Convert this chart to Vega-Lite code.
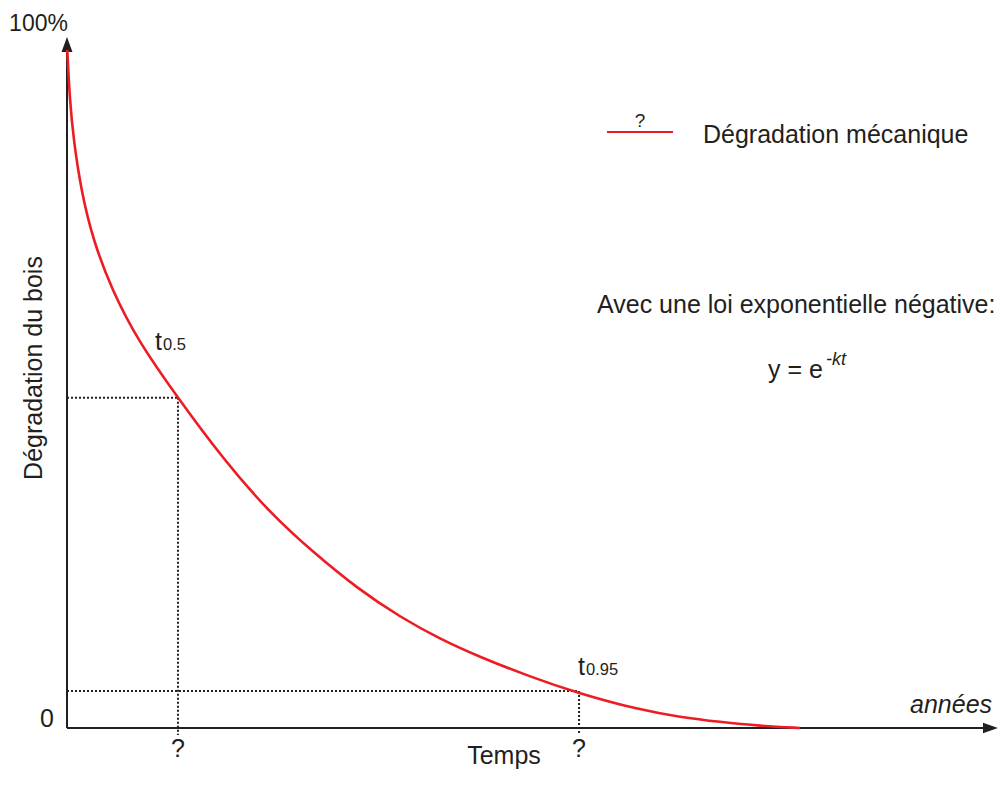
{
  "$schema": "https://vega.github.io/schema/vega-lite/v6.json",
  "autosize": {"type": "none"},
  "padding": {"left": 67, "top": 37, "right": 5, "bottom": 72},
  "width": 931,
  "height": 691,
  "background": "white",
  "config": {"view": {"stroke": null}, "text": {"font": "Liberation Sans", "color": "#231f20"}},
  "datasets": {
    "curve": [
      {"t": 0.03, "y": 98.12}, {"t": 0.30, "y": 90.88}, {"t": 0.71, "y": 85.09}, {"t": 1.51, "y": 77.86},
      {"t": 2.79, "y": 70.62}, {"t": 4.83, "y": 63.39}, {"t": 7.57, "y": 56.15}, {"t": 11.92, "y": 47.76},
      {"t": 16.86, "y": 38.78}, {"t": 21.80, "y": 31.11}, {"t": 26.53, "y": 25.33}, {"t": 31.26, "y": 20.12},
      {"t": 35.77, "y": 16.06}, {"t": 40.06, "y": 12.88}, {"t": 44.36, "y": 10.27}, {"t": 49.52, "y": 7.53},
      {"t": 54.78, "y": 5.07}, {"t": 61.55, "y": 2.60}, {"t": 65.84, "y": 1.59}, {"t": 70.14, "y": 0.87},
      {"t": 74.44, "y": 0.29}, {"t": 78.73, "y": 0}
    ],
    "axes": [{"x": 0, "y": 0, "x2": 0, "y2": 98}, {"x": 0, "y": 0, "x2": 99, "y2": 0}],
    "guides": [
      {"x": 0, "y": 47.8, "x2": 11.92, "y2": 47.8},
      {"x": 11.92, "y": 47.8, "x2": 11.92, "y2": -1.0},
      {"x": 0, "y": 5.35, "x2": 55.0, "y2": 5.35},
      {"x": 55.0, "y": 5.35, "x2": 55.0, "y2": -1.0}
    ],
    "legendLine": [{"x": 58.0, "y": 86.25, "x2": 65.09, "y2": 86.25}],
    "arrowUp": [{"x": 0, "y": 100}],
    "arrowRight": [{"x": 100, "y": 0}],
    "centerText": [
      {"x": -2.15, "y": 0.14, "label": "0"},
      {"x": 11.92, "y": -4.2, "label": "?"},
      {"x": 55.0, "y": -4.2, "label": "?"},
      {"x": 46.94, "y": -5.2, "label": "Temps"}
    ],
    "topText": [{"x": -3.06, "y": 100.87, "label": "100%"}],
    "leftText": [
      {"x": 68.31, "y": 84.66, "label": "Dégradation mécanique"},
      {"x": 56.93, "y": 60.06, "label": "Avec une loi exponentielle négative:"},
      {"x": 75.3, "y": 50.65, "label": "y = e"},
      {"x": 9.45, "y": 54.7, "label": "t"},
      {"x": 54.89, "y": 7.67, "label": "t"}
    ],
    "subText": [
      {"x": 10.31, "y": 54.7, "label": "0.5"},
      {"x": 55.75, "y": 7.67, "label": "0.95"}
    ],
    "legendQ": [{"x": 61.55, "y": 87.0, "label": "?"}],
    "supText": [{"x": 81.52, "y": 52.5, "label": "-kt"}],
    "italicText": [{"x": 99.36, "y": 2.17, "label": "années"}],
    "yTitle": [{"x": -3.54, "y": 52.1, "label": "Dégradation du bois"}]
  },
  "encoding": {
    "x": {"field": "x", "type": "quantitative", "scale": {"domain": [0, 100], "nice": false, "zero": false}, "axis": null},
    "y": {"field": "y", "type": "quantitative", "scale": {"domain": [0, 100], "nice": false, "zero": false}, "axis": null}
  },
  "layer": [
    {
      "data": {"name": "guides"},
      "mark": {"type": "rule", "stroke": "#231f20", "strokeWidth": 2, "strokeDash": [2, 2]},
      "encoding": {"x2": {"field": "x2"}, "y2": {"field": "y2"}}
    },
    {
      "data": {"name": "axes"},
      "mark": {"type": "rule", "stroke": "#231f20", "strokeWidth": 2},
      "encoding": {"x2": {"field": "x2"}, "y2": {"field": "y2"}}
    },
    {
      "data": {"name": "arrowUp"},
      "mark": {"type": "point", "shape": "M0,0L0.73,2L-0.73,2Z", "size": 225, "filled": true, "color": "#231f20", "opacity": 1},
      "encoding": {}
    },
    {
      "data": {"name": "arrowRight"},
      "mark": {"type": "point", "shape": "M0,0L-2,-0.71L-2,0.71Z", "size": 225, "filled": true, "color": "#231f20", "opacity": 1},
      "encoding": {}
    },
    {
      "data": {"name": "curve"},
      "mark": {"type": "line", "color": "#ed1c24", "strokeWidth": 2.6, "interpolate": "basis"},
      "encoding": {"x": {"field": "t", "type": "quantitative"}}
    },
    {
      "data": {"name": "legendLine"},
      "mark": {"type": "rule", "stroke": "#ed1c24", "strokeWidth": 2},
      "encoding": {"x2": {"field": "x2"}, "y2": {"field": "y2"}}
    },
    {
      "data": {"name": "centerText"},
      "mark": {"type": "text", "fontSize": 25, "align": "center", "baseline": "alphabetic"},
      "encoding": {"text": {"field": "label"}}
    },
    {
      "data": {"name": "topText"},
      "mark": {"type": "text", "fontSize": 23, "align": "center", "baseline": "alphabetic"},
      "encoding": {"text": {"field": "label"}}
    },
    {
      "data": {"name": "leftText"},
      "mark": {"type": "text", "fontSize": 25, "align": "left", "baseline": "alphabetic"},
      "encoding": {"text": {"field": "label"}}
    },
    {
      "data": {"name": "subText"},
      "mark": {"type": "text", "fontSize": 16.5, "align": "left", "baseline": "alphabetic"},
      "encoding": {"text": {"field": "label"}}
    },
    {
      "data": {"name": "legendQ"},
      "mark": {"type": "text", "fontSize": 19, "align": "center", "baseline": "alphabetic"},
      "encoding": {"text": {"field": "label"}}
    },
    {
      "data": {"name": "supText"},
      "mark": {"type": "text", "fontSize": 18, "fontStyle": "italic", "align": "left", "baseline": "alphabetic"},
      "encoding": {"text": {"field": "label"}}
    },
    {
      "data": {"name": "italicText"},
      "mark": {"type": "text", "fontSize": 25, "fontStyle": "italic", "align": "right", "baseline": "alphabetic"},
      "encoding": {"text": {"field": "label"}}
    },
    {
      "data": {"name": "yTitle"},
      "mark": {"type": "text", "fontSize": 25, "angle": 270, "align": "center", "baseline": "middle"},
      "encoding": {"text": {"field": "label"}}
    }
  ]
}
